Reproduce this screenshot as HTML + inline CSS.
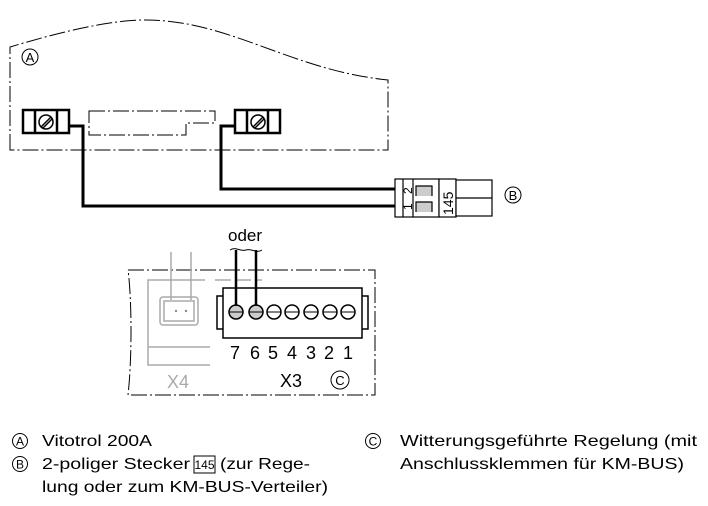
<!DOCTYPE html>
<html><head><style>
html,body{margin:0;padding:0;background:#fff;}
svg{display:block;font-family:"Liberation Sans",Arial,sans-serif;}
</style></head><body>
<svg width="708" height="506" viewBox="0 0 708 506" xmlns="http://www.w3.org/2000/svg">
<g fill="none" stroke="#000" stroke-width="1" stroke-dasharray="16,3,2,3">
  <path d="M10,150 L10,47 C60,32 110,20 145,20 C230,20 290,70 388,80 L388,150 Z"/>
  <path d="M89,111 L215,111 L215,123 L186,123 L186,135 L89,135 Z"/>
  <path d="M128,270 L375,270 L375,395 L128,395 C132,360 132,300 128,270"/>
</g>
<g stroke="#000" stroke-width="2.5" fill="#fff">
  <rect x="23" y="110" width="46" height="23"/>
  <line x1="35" y1="110" x2="35" y2="133"/><line x1="57" y1="110" x2="57" y2="133"/>
  <rect x="235" y="110" width="45" height="23"/>
  <line x1="247" y1="110" x2="247" y2="133"/><line x1="268" y1="110" x2="268" y2="133"/>
</g>
<g stroke="#000" stroke-width="1.5" fill="#fff">
  <circle cx="46" cy="122" r="7"/><line x1="41" y1="127" x2="51" y2="117"/><line x1="43" y1="128" x2="52" y2="119"/>
  <circle cx="258" cy="122" r="7"/><line x1="253" y1="127" x2="263" y2="117"/><line x1="255" y1="128" x2="264" y2="119"/>
</g>
<g fill="none" stroke="#000" stroke-width="3">
  <path d="M69,126 L83,126 L83,206 L398,206"/>
  <path d="M235,126 L221,126 L221,189 L398,189"/>
</g>
<g stroke="#000" stroke-width="1.2" fill="#fff">
  <rect x="395" y="179" width="44" height="38"/>
  <rect x="439" y="179" width="17" height="38"/>
  <rect x="456" y="180" width="36" height="36"/>
  <line x1="456" y1="198" x2="492" y2="198"/>
  <line x1="403" y1="179" x2="403" y2="217"/><line x1="413" y1="179" x2="413" y2="217"/>
  <path d="M416,196 L416,186 L432,186 L432,196" fill="#ccc"/>
  <path d="M416,212 L416,202 L432,202 L432,212" fill="#ccc"/>
</g>
<text x="0" y="0" font-size="12" transform="translate(412,194) rotate(-90)">2</text>
<text x="0" y="0" font-size="12" transform="translate(412,210) rotate(-90)">1</text>
<text x="0" y="0" font-size="14" transform="translate(453,215) rotate(-90)">145</text>
<circle cx="513" cy="195" r="8" fill="none" stroke="#000"/>
<text x="513" y="200" font-size="13" text-anchor="middle">B</text>
<circle cx="30" cy="57" r="8" fill="none" stroke="#000"/>
<text x="30" y="62" font-size="13" text-anchor="middle">A</text>
<g fill="none" stroke="#aaa" stroke-width="1.5">
  <line x1="171" y1="252" x2="171" y2="300"/><line x1="191" y1="252" x2="191" y2="300"/>
  <path d="M205,280 L148,280 L148,365 L210,365"/>
  <path d="M148,347 L210,347"/>
  <rect x="160" y="297" width="38" height="28" rx="3"/>
  <rect x="164" y="301" width="30" height="20"/>
</g>
<line x1="215" y1="280" x2="262" y2="280" stroke="#aaa" stroke-width="1.5" stroke-dasharray="16,4"/>
<circle cx="176" cy="311" r="1.2" fill="#888"/><circle cx="186" cy="311" r="1.2" fill="#888"/>
<text x="167" y="388" font-size="18" fill="#aaa">X4</text>
<g stroke="#000" stroke-width="1.5" fill="#fff">
  <rect x="217" y="296" width="151" height="33"/>
  <rect x="223" y="288" width="139" height="50"/>
  <circle cx="236" cy="312" r="7" fill="#ccc"/><circle cx="256" cy="312" r="7" fill="#ccc"/>
  <circle cx="274" cy="312" r="7"/><circle cx="292" cy="312" r="7"/><circle cx="311" cy="312" r="7"/>
  <circle cx="330" cy="312" r="7"/><circle cx="348" cy="312" r="7"/>
</g>
<g stroke="#000" stroke-width="1"><line x1="229" y1="312" x2="243" y2="312"/><line x1="249" y1="312" x2="263" y2="312"/>
<line x1="267" y1="312" x2="281" y2="312"/><line x1="285" y1="312" x2="299" y2="312"/><line x1="304" y1="312" x2="318" y2="312"/><line x1="323" y1="312" x2="337" y2="312"/><line x1="341" y1="312" x2="355" y2="312"/></g>
<g fill="none" stroke="#000" stroke-width="2.5"><line x1="236" y1="250" x2="236" y2="306"/><line x1="256" y1="250" x2="256" y2="306"/></g>
<path d="M230,250 C236,246 240,252 246,250 C252,248 256,254 262,250" fill="none" stroke="#000" stroke-width="1"/>
<text x="228" y="241" font-size="17">oder</text>
<text font-size="18" y="359"><tspan x="230">7</tspan><tspan x="250">6</tspan><tspan x="268">5</tspan><tspan x="287">4</tspan><tspan x="306">3</tspan><tspan x="324">2</tspan><tspan x="343">1</tspan></text>
<text x="280" y="387" font-size="18">X3</text>
<circle cx="340" cy="380" r="9" fill="none" stroke="#000"/>
<text x="340" y="385" font-size="13" text-anchor="middle">C</text>
<g font-size="16">
  <circle cx="20" cy="441" r="7.5" fill="none" stroke="#000"/><text x="20" y="445.5" font-size="12" text-anchor="middle">A</text>
  <text x="42" y="446" textLength="110" lengthAdjust="spacingAndGlyphs">Vitotrol 200A</text>
  <circle cx="20" cy="464" r="7.5" fill="none" stroke="#000"/><text x="20" y="468.5" font-size="12" text-anchor="middle">B</text>
  <text x="42" y="469" textLength="148" lengthAdjust="spacingAndGlyphs">2-poliger Stecker</text>
  <rect x="194" y="456" width="21" height="17" fill="none" stroke="#000"/>
  <text x="204.5" y="469" font-size="12" text-anchor="middle">145</text>
  <text x="220" y="469" textLength="90" lengthAdjust="spacingAndGlyphs">(zur Rege-</text>
  <text x="42" y="492" textLength="286" lengthAdjust="spacingAndGlyphs">lung oder zum KM-BUS-Verteiler)</text>
  <circle cx="373" cy="441" r="7.5" fill="none" stroke="#000"/><text x="373" y="445.5" font-size="12" text-anchor="middle">C</text>
  <text x="400" y="446" textLength="297" lengthAdjust="spacingAndGlyphs">Witterungsgeführte Regelung (mit</text>
  <text x="400" y="469" textLength="284" lengthAdjust="spacingAndGlyphs">Anschlussklemmen für KM-BUS)</text>
</g>
</svg>
</body></html>
